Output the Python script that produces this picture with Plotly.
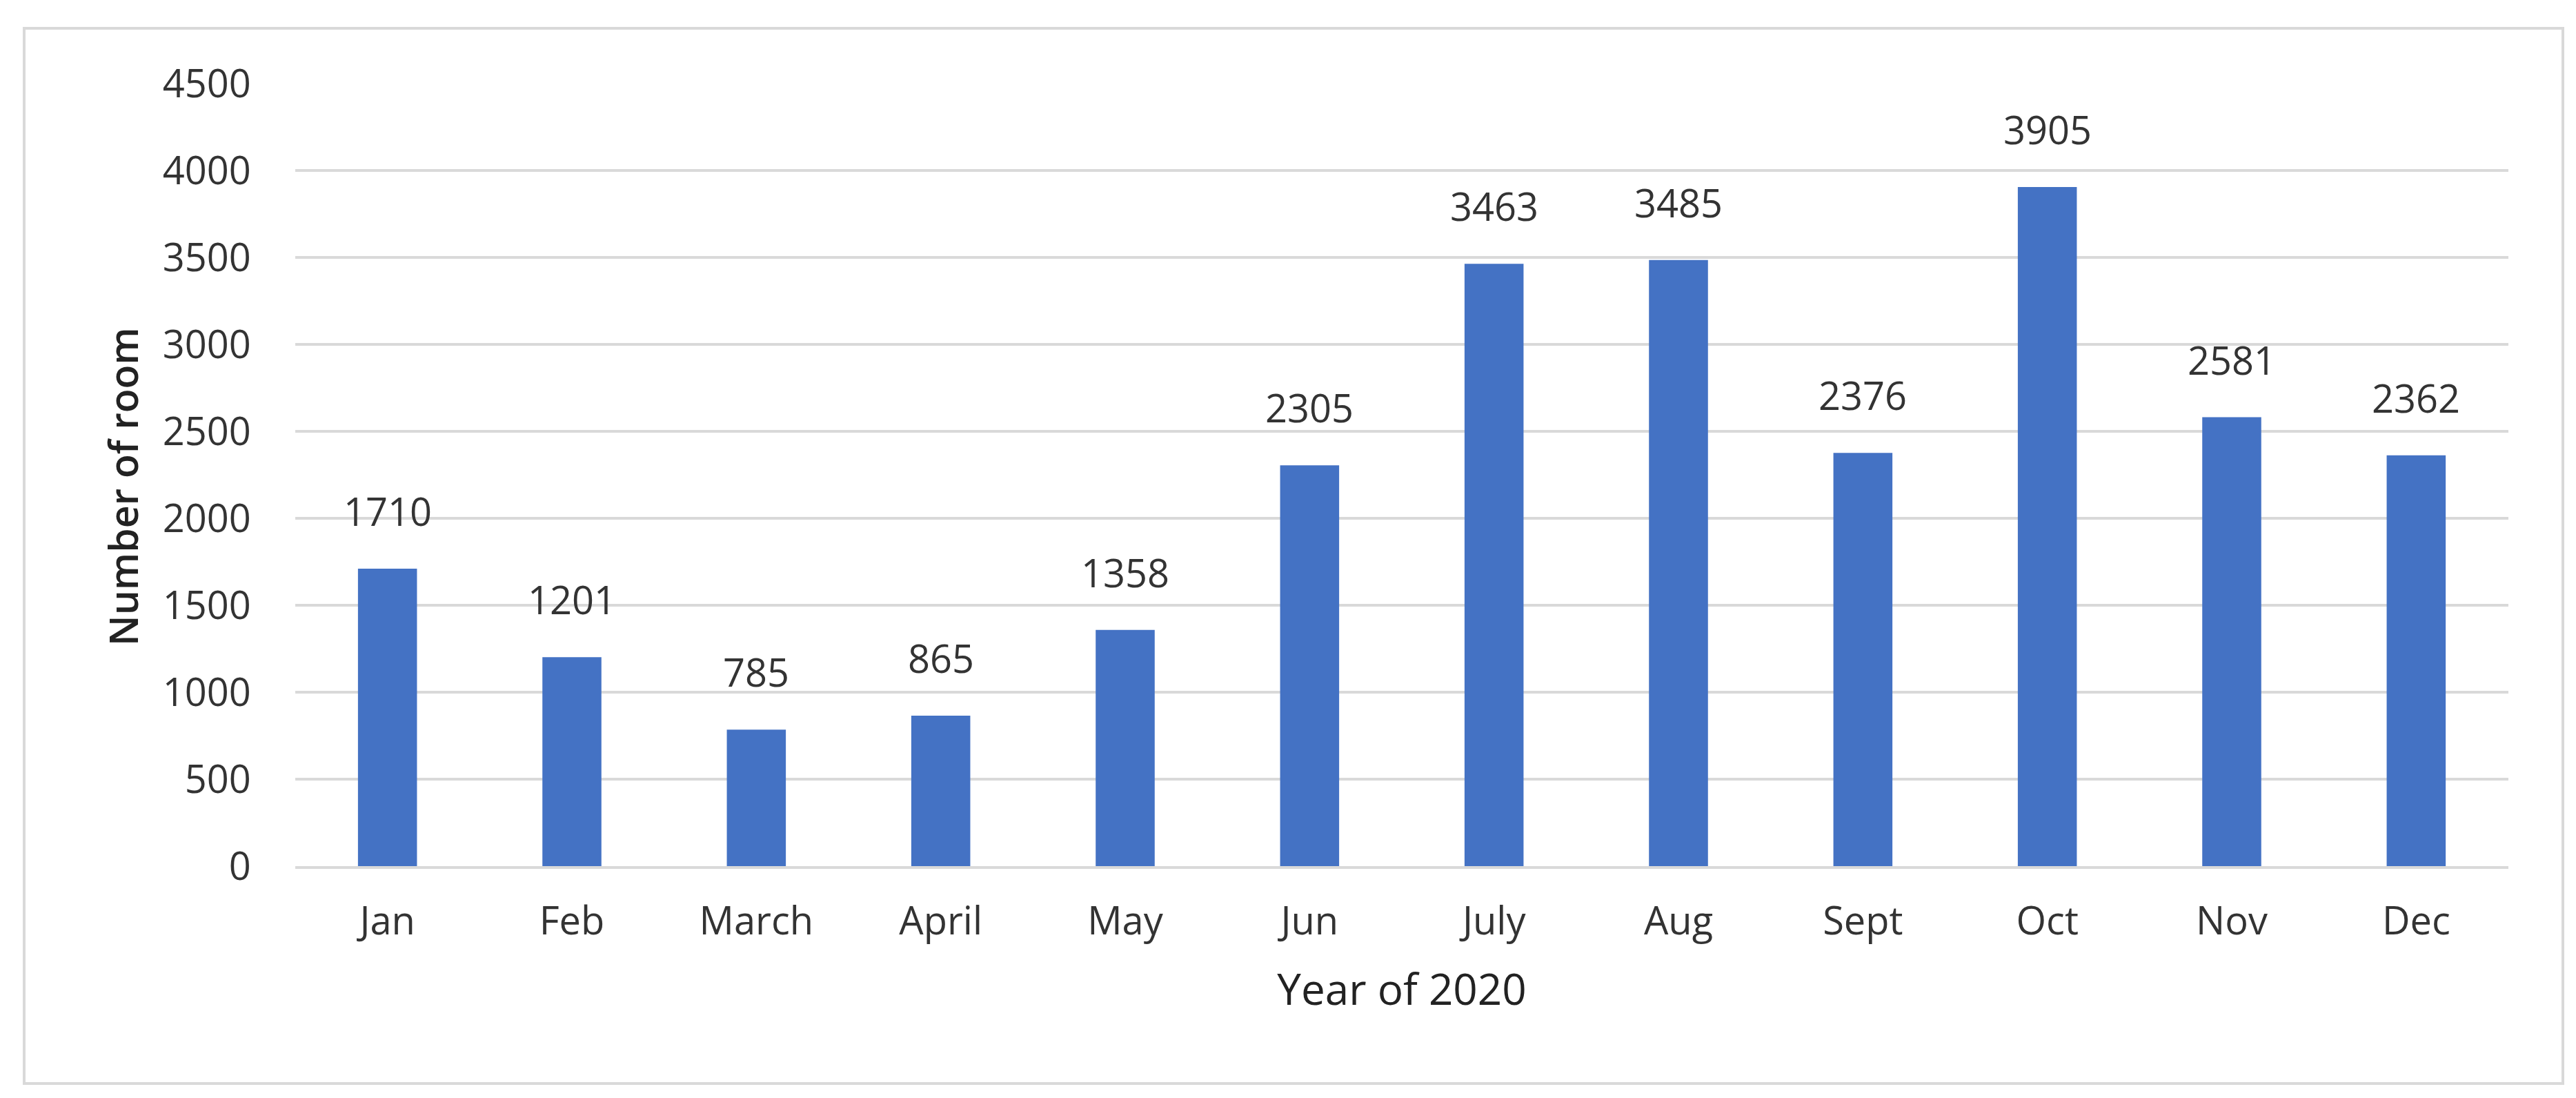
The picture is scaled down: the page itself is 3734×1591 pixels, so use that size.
import plotly.graph_objects as go

months = ["Jan", "Feb", "March", "April", "May", "Jun", "July", "Aug", "Sept", "Oct", "Nov", "Dec"]
rooms = [1710, 1201, 785, 865, 1358, 2305, 3463, 3485, 2376, 3905, 2581, 2362]
y_ticks = [0, 500, 1000, 1500, 2000, 2500, 3000, 3500, 4000, 4500]

W, H = 3734, 1591
L, R, T, B = 420, 3628, 113, 1247
FONT = "Open Sans"
BAR_COLOR = "#4472C4"
GRID = "#d9d9d9"
TXT = "#333333"

fig = go.Figure()
fig.add_trace(go.Bar(
    x=months, y=rooms, width=0.32,
    marker=dict(color=BAR_COLOR, line=dict(width=0)),
    hoverinfo="x+y",
))

for m, v in zip(months, rooms):
    fig.add_annotation(
        x=m, y=v, text=str(v), showarrow=False,
        yanchor="bottom", yshift=44,
        font=dict(family=FONT, size=56, color=TXT),
    )

# outer border around the chart area
pw, ph = R - L, B - T
fig.add_shape(
    type="rect", xref="paper", yref="paper",
    x0=(27 - L) / pw, x1=(3707 - L) / pw,
    y0=(B - 1562) / ph, y1=(B - 33) / ph,
    line=dict(color=GRID, width=4), fillcolor="rgba(0,0,0,0)", layer="below",
)

# y-axis title
fig.add_annotation(
    xref="paper", yref="paper", x=(170 - L) / pw, y=0.485,
    text="Number of room", textangle=-90, showarrow=False,
    xanchor="center", yanchor="middle",
    font=dict(family=FONT, size=57, color="#222222", weight=600),
)

fig.update_layout(
    width=W, height=H,
    margin=dict(l=L, r=W - R, t=T, b=H - B, pad=0),
    paper_bgcolor="white", plot_bgcolor="white",
    showlegend=False,
    font=dict(family=FONT, size=56, color=TXT),
    bargap=0.68,
)
fig.update_xaxes(
    type="category",
    showgrid=False, showline=True, linecolor=GRID, linewidth=4,
    ticks="outside", ticklen=28, tickcolor="rgba(0,0,0,0)",
    tickfont=dict(family=FONT, size=56, color=TXT),
    title=dict(text="Year of 2020", font=dict(family=FONT, size=62, color="#222222"), standoff=44),
    fixedrange=True,
)
fig.update_yaxes(
    range=[0, 4500], tickvals=y_ticks, ticktext=[str(t) for t in y_ticks],
    showgrid=True, gridcolor=GRID, gridwidth=4,
    zeroline=False, showline=False,
    ticks="outside", ticklen=52, tickcolor="rgba(0,0,0,0)",
    tickfont=dict(family=FONT, size=56, color=TXT),
    fixedrange=True,
)

fig.write_html("out.html")
